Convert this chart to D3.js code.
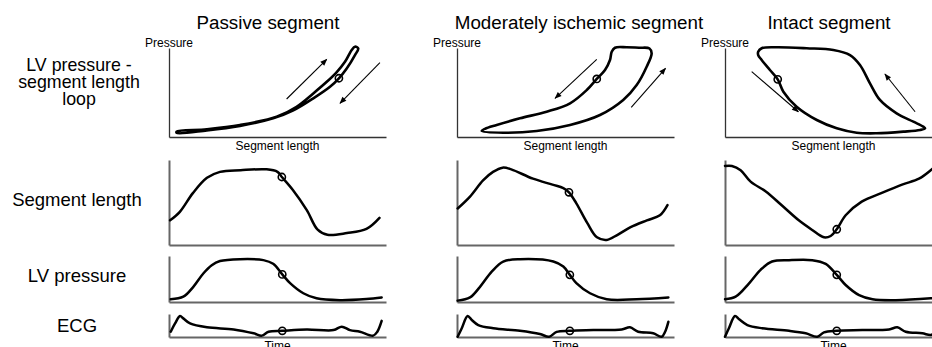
<!DOCTYPE html>
<html>
<head>
<meta charset="utf-8">
<script src="https://cdn.jsdelivr.net/npm/d3@7"></script>
<style>
  html, body { margin: 0; padding: 0; background: #fff; }
  svg { display: block; font-family: "Liberation Sans", Arial, sans-serif; }
</style>
</head>
<body>
<svg id="chart" width="932" height="347"></svg>
<script>
// ---------- labels ----------
const panelTitles = ["Passive segment", "Moderately ischemic segment", "Intact segment"];
const loopRowLabel = ["LV pressure -", "segment length", "loop"];
const rowLabels = ["Segment length", "LV pressure", "ECG"];
const loopXLabel = "Segment length";
const loopYLabel = "Pressure";
const timeLabel = "Time";

// ---------- pressure–length loops: [segment length, pressure] (0–100) ----------
const passiveLoop = [
  [3.5, 6], [17.4, 8.7], [32.7, 13.5], [49.6, 22.8], [58.8, 34], [66.5, 49], [72.7, 62],
  [77.3, 73], [81.1, 84.6], [84.2, 97.8], [85.7, 101.5], [87.2, 99.5], [85.7, 92],
  [81.9, 77], [78.3, 66], [74.2, 56.5], [66.5, 43.5], [57.3, 30], [48, 21],
  [32.7, 12.4], [17.4, 7.4], [3.5, 4.6]
];
const ischemicLoop = [
  [11.4, 6.7], [21.3, 4.8], [36.7, 6.7], [52.1, 13.5], [65.9, 24.7], [76.6, 41.6],
  [82.8, 58.4], [87.4, 79], [89.7, 94], [88.7, 99.5], [84, 100.3], [78.2, 100.8], [72.8, 100.3],
  [71.3, 95.8], [70.5, 86.5], [68.2, 75.3], [64.4, 65.2], [59.8, 52.8], [52.1, 37.9],
  [41.3, 28.4], [29, 21], [18.3, 13.5], [12.9, 9.2]
];
const intactLoop = [
  [15.3, 95.8], [16.9, 99.7], [23.8, 100.8], [37.6, 99.7], [49.9, 97.8], [57.6, 92.1],
  [62.2, 80.9], [66.8, 60.3], [71.4, 41.6], [79.1, 26.6], [86.8, 17.2], [91.4, 11.6],
  [92.2, 9.8], [89.9, 7.9], [82.2, 6], [69.9, 4.2], [60.7, 4.8], [51.5, 9.8], [42.3, 19.1],
  [33, 34], [26.9, 50.9], [24.3, 64.8], [20.7, 75.3], [16.9, 86.5], [15.3, 92.1]
];
const loops = [passiveLoop, ischemicLoop, intactLoop];

// direction arrows on each loop: [from, to] in [length, pressure]
const loopArrows = [
  [[[54.2, 42.7], [72.7, 87.3]], [[97.2, 83.5], [78.8, 37.9]]],
  [[[64.4, 87.3], [45.2, 43.5]], [[80.3, 33.4], [96.1, 77.2]]],
  [[[12.3, 73.4], [33.8, 28.4]], [[87.6, 28.4], [73.7, 70.8]]]
];
const loopMarks = [[78.3, 66], [64.4, 65.2], [24.3, 64.8]];

// ---------- time traces: [time (% of cycle), value (0–100)] ----------
const segLength = [
  [[0.5, 29], [5, 39], [11, 61], [17.5, 79], [23.5, 86], [33, 88], [45, 89], [50, 86],
   [52, 80], [57, 65], [63.5, 41], [68.5, 18], [73, 12], [82, 14], [91, 19], [97, 32]],
  [[0.3, 43], [6, 57], [12, 76], [16.6, 86], [21, 91], [25, 89], [35, 78], [44, 71], [49, 67],
   [51.6, 62], [55, 49], [60, 26], [64.5, 9], [69, 6], [74, 12], [80, 21], [87.5, 29],
   [93.5, 35], [97, 47]],
  [[0, 93], [3.2, 93], [7.2, 88], [11.8, 74.5], [18.8, 63], [26, 47], [34, 29], [40, 18],
   [45.6, 9], [48.7, 10.6], [51.5, 18.5], [55.6, 35], [63, 51], [72, 61], [81.6, 71],
   [89.4, 78], [94.8, 88], [98, 95]]
];
const lvPressure = [
  [[0.8, 6], [6.6, 11.5], [11.2, 33], [15.8, 62], [19.7, 80], [23.5, 89], [32.7, 93],
   [43.5, 91], [48, 83], [52.2, 60], [55.8, 41], [61.9, 19], [68, 8], [78.8, 4], [91, 6.5], [98, 10]],
  [[0.3, 3], [6, 10], [10.6, 33], [16, 66], [21.3, 88], [29, 93], [44.4, 88], [49, 77],
   [52, 59], [55, 41], [61.3, 19], [69, 6], [82.8, 6], [97.4, 10]],
  [[0, 6], [4.9, 11.5], [11, 40], [16.4, 70], [21.7, 88], [29.5, 91], [40.2, 91], [46.4, 83],
   [51.5, 59], [55.6, 37], [61.8, 15], [68, 6], [78.7, 4], [94.8, 8], [99, 10]]
];
const ecg = [
  [[0.8, 23], [2.8, 59], [5.1, 91], [6.6, 81], [9.7, 59], [17.5, 42], [29.8, 33], [39, 16],
   [42.8, 6], [45.9, 23], [52.2, 27], [63.5, 33], [75.8, 30], [79.6, 45], [83.4, 30], [88, 23],
   [94.1, 6], [96, 23], [98, 70]],
  [[0.3, 1], [2.2, 38], [4.9, 91], [6.8, 74], [9.8, 52], [16.7, 38], [29, 27], [38.2, 13],
   [42.5, 1], [45.9, 22], [52, 27], [62.8, 30], [75.9, 33], [79.7, 42], [83.5, 23], [90.4, 16],
   [94.3, 1], [95.9, 23], [97.4, 66]],
  [[0, 1], [1.8, 38], [4.6, 91], [6.5, 77], [10.3, 52], [17.2, 38], [29.5, 27], [37.2, 16],
   [42.5, 1], [45.6, 20], [51.5, 27], [63.3, 30], [75.6, 33], [79.4, 42], [83.3, 23],
   [90.9, 16], [94.8, 9], [97, 20]]
];
const segMarks = [[52, 80], [51.6, 62], [51.5, 18.5]];
const lvMarks = [[52.2, 60], [52, 59], [51.5, 59]];
const ecgMarks = [[52.2, 27], [52, 27], [51.5, 27]];

// ---------- layout ----------
const panelLeft = [169, 457, 725];
const panelWidth = 217;
const titleX = [268, 579, 829];
const rowBox = {
  loop: [48, 137],
  seg: [160, 245],
  lv: [256, 302],
  ecg: [314, 337]
};

const svg = d3.select("#chart");

const defs = svg.append("defs");
defs.append("marker")
  .attr("id", "arrowhead")
  .attr("viewBox", "0 0 10 10")
  .attr("refX", 9).attr("refY", 5)
  .attr("markerWidth", 8).attr("markerHeight", 7)
  .attr("markerUnits", "userSpaceOnUse")
  .attr("orient", "auto")
  .append("path")
  .attr("d", "M0,1L10,5L0,9Z")
  .attr("fill", "#000");

// row labels on the left
const loopLab = svg.append("text")
  .attr("text-anchor", "middle")
  .attr("font-size", 17.8)
  .attr("fill", "#000");
loopRowLabel.forEach((line, i) => {
  loopLab.append("tspan").attr("x", 79).attr("y", 71 + i * 17).text(line);
});
const rowLabelY = [206, 282, 332];
rowLabels.forEach((t, i) => {
  svg.append("text")
    .attr("x", 77).attr("y", rowLabelY[i])
    .attr("text-anchor", "middle")
    .attr("font-size", 18.5)
    .attr("fill", "#000")
    .text(t);
});

const traceLine = d3.line().curve(d3.curveCatmullRom.alpha(0.5));
const loopLine = d3.line().curve(d3.curveCatmullRomClosed.alpha(0.5));

function drawAxes(g, x, y, color, width) {
  const ax = g.append("g").attr("class", "axes");
  ax.append("g")
    .attr("transform", `translate(${x.range()[0]},0)`)
    .call(d3.axisLeft(y).tickValues([]).tickSizeOuter(0));
  ax.append("g")
    .attr("transform", `translate(0,${y.range()[0]})`)
    .call(d3.axisBottom(x).tickValues([]).tickSizeOuter(0));
  ax.selectAll(".domain").attr("stroke", color).attr("stroke-width", width);
}

function drawMark(g, x, y, p) {
  g.append("circle")
    .attr("cx", x(p[0])).attr("cy", y(p[1]))
    .attr("r", 3.6)
    .attr("fill", "none")
    .attr("stroke", "#000")
    .attr("stroke-width", 1.6);
}

panelTitles.forEach((title, i) => {
  const g = svg.append("g");
  const x = d3.scaleLinear().domain([0, 100]).range([panelLeft[i], panelLeft[i] + panelWidth]);
  const mid = panelLeft[i] + panelWidth / 2;

  g.append("text")
    .attr("x", titleX[i]).attr("y", 29)
    .attr("text-anchor", "middle")
    .attr("font-size", 18.8)
    .attr("fill", "#000")
    .text(title);

  // pressure–length loop
  const yL = d3.scaleLinear().domain([0, 100]).range([rowBox.loop[1], rowBox.loop[0]]);
  drawAxes(g, x, yL, "#333", 1.3);
  g.append("text")
    .attr("x", panelLeft[i]).attr("y", 47)
    .attr("text-anchor", "middle")
    .attr("font-size", 12).attr("fill", "#000")
    .text(loopYLabel);
  g.append("text")
    .attr("x", mid).attr("y", 150)
    .attr("text-anchor", "middle")
    .attr("font-size", 12).attr("fill", "#000")
    .text(loopXLabel);
  g.append("path")
    .datum(loops[i].map(d => [x(d[0]), yL(d[1])]))
    .attr("d", loopLine)
    .attr("fill", "none")
    .attr("stroke", "#000")
    .attr("stroke-width", 2.6)
    .attr("stroke-linejoin", "round");
  loopArrows[i].forEach(a => {
    g.append("line")
      .attr("x1", x(a[0][0])).attr("y1", yL(a[0][1]))
      .attr("x2", x(a[1][0])).attr("y2", yL(a[1][1]))
      .attr("stroke", "#000")
      .attr("stroke-width", 1.1)
      .attr("marker-end", "url(#arrowhead)");
  });
  drawMark(g, x, yL, loopMarks[i]);

  // time traces
  const traces = [
    [segLength[i], segMarks[i], rowBox.seg],
    [lvPressure[i], lvMarks[i], rowBox.lv],
    [ecg[i], ecgMarks[i], rowBox.ecg]
  ];
  traces.forEach(([series, mark, box]) => {
    const y = d3.scaleLinear().domain([0, 100]).range([box[1], box[0]]);
    drawAxes(g, x, y, "#666", 2);
    g.append("path")
      .datum(series.map(d => [x(d[0]), y(d[1])]))
      .attr("d", traceLine)
      .attr("fill", "none")
      .attr("stroke", "#000")
      .attr("stroke-width", 2.5)
      .attr("stroke-linejoin", "round")
      .attr("stroke-linecap", "round");
    drawMark(g, x, y, mark);
  });

  g.append("text")
    .attr("x", mid).attr("y", 350)
    .attr("text-anchor", "middle")
    .attr("font-size", 12).attr("fill", "#000")
    .text(timeLabel);
});
</script>
</body>
</html>
